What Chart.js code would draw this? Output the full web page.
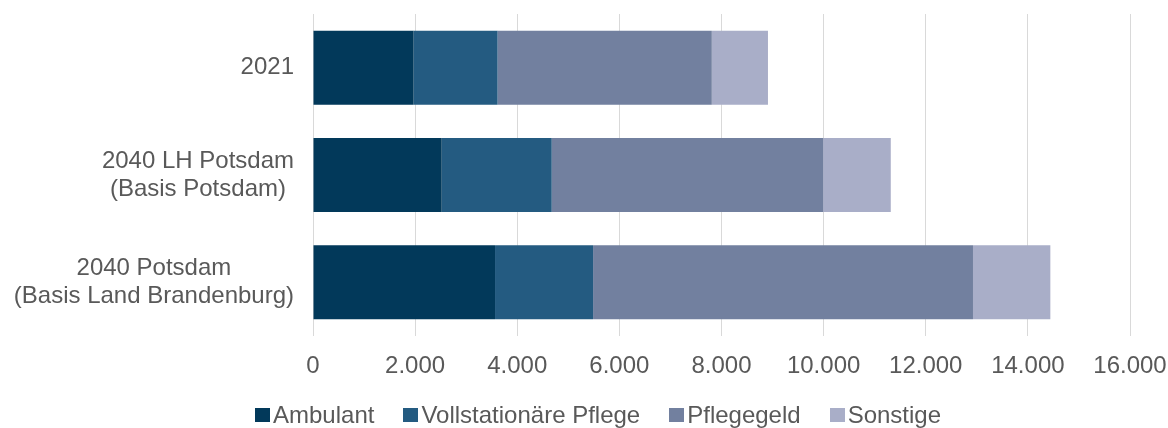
<!DOCTYPE html>
<html><head><meta charset="utf-8">
<script src="https://cdn.jsdelivr.net/npm/chart.js@4"></script>
<style>
html,body{margin:0;padding:0;background:#fff;}
#wrap{position:relative;width:1168px;height:428px;}
#legend{position:absolute;left:255px;top:401px;display:flex;gap:29px;font:24px "Liberation Sans",Arial,sans-serif;color:#595959;line-height:28px;white-space:nowrap;}
.item{display:flex;align-items:center;}
.box{width:15px;height:14px;margin-right:3px;}
</style></head>
<body><div id="wrap"><canvas id="c" width="1168" height="428"></canvas><div id="legend"></div></div>
<script>
const categories = [["2021"], ["2040 LH Potsdam", "(Basis Potsdam)"], ["2040 Potsdam", "(Basis Land Brandenburg)"]];
const seriesNames = ["Ambulant", "Vollstationäre Pflege", "Pflegegeld", "Sonstige"];
const ambulant = [1970, 2520, 3565];
const vollstationaer = [1645, 2155, 1920];
const pflegegeld = [4195, 5315, 7440];
const sonstige = [1100, 1325, 1515];
const seriesColors = ["#02395A", "#245B81", "#72809F", "#A9AEC8"];
const xTickLabels = ["0", "2.000", "4.000", "6.000", "8.000", "10.000", "12.000", "14.000", "16.000"];

const FONT = '"Liberation Sans", Arial, sans-serif';
const TEXT = '#595959';
const seriesValues = [ambulant, vollstationaer, pflegegeld, sonstige];

const yLabelPlugin = {
  id: 'yLabels',
  afterDraw(chart) {
    const ctx = chart.ctx, ys = chart.scales.y;
    ctx.save();
    ctx.font = '24px ' + FONT;
    ctx.fillStyle = TEXT;
    ctx.textAlign = 'center';
    ctx.textBaseline = 'middle';
    const right = chart.chartArea.left - 19;
    const lh = 28;
    categories.forEach((lines, i) => {
      const yc = ys.getPixelForValue(i);
      const w = Math.max(...lines.map(l => ctx.measureText(l).width));
      const cx = right - w / 2;
      lines.forEach((l, j) => ctx.fillText(l, cx, yc + (j - (lines.length - 1) / 2) * lh));
    });
    ctx.restore();
  }
};

const htmlLegendPlugin = {
  id: 'htmlLegend',
  afterUpdate(chart) {
    const el = document.getElementById('legend');
    el.innerHTML = '';
    chart.data.datasets.forEach(ds => {
      const item = document.createElement('div'); item.className = 'item';
      const box = document.createElement('span'); box.className = 'box'; box.style.background = ds.backgroundColor;
      const t = document.createElement('span'); t.textContent = ds.label;
      item.appendChild(box); item.appendChild(t); el.appendChild(item);
    });
  }
};

new Chart(document.getElementById('c'), {
  type: 'bar',
  data: {
    labels: categories,
    datasets: seriesNames.map((n, i) => ({
      label: n, data: seriesValues[i], backgroundColor: seriesColors[i], borderWidth: 0,
      barPercentage: 0.69, categoryPercentage: 1
    }))
  },
  options: {
    indexAxis: 'y',
    responsive: false,
    animation: false,
    devicePixelRatio: 1,
    layout: { padding: { top: 14, right: 38, bottom: 47.6, left: 0 } },
    plugins: { legend: { display: false }, tooltip: { enabled: false } },
    scales: {
      x: {
        stacked: true, min: 0, max: 16000,
        grid: { color: '#D9D9D9', lineWidth: 1, drawTicks: false },
        border: { display: false },
        ticks: { stepSize: 2000, padding: 15.6, maxRotation: 0, color: TEXT, font: { size: 24, family: FONT },
          callback: (v, i) => xTickLabels[i] },
        afterFit: s => { s.height = 44.4; s.paddingRight = 0; s.paddingLeft = 0; }
      },
      y: {
        stacked: true,
        grid: { display: false },
        border: { display: false },
        ticks: { display: false },
        afterFit: s => { s.width = 313; }
      }
    }
  },
  plugins: [yLabelPlugin, htmlLegendPlugin]
});
</script>
</body></html>
